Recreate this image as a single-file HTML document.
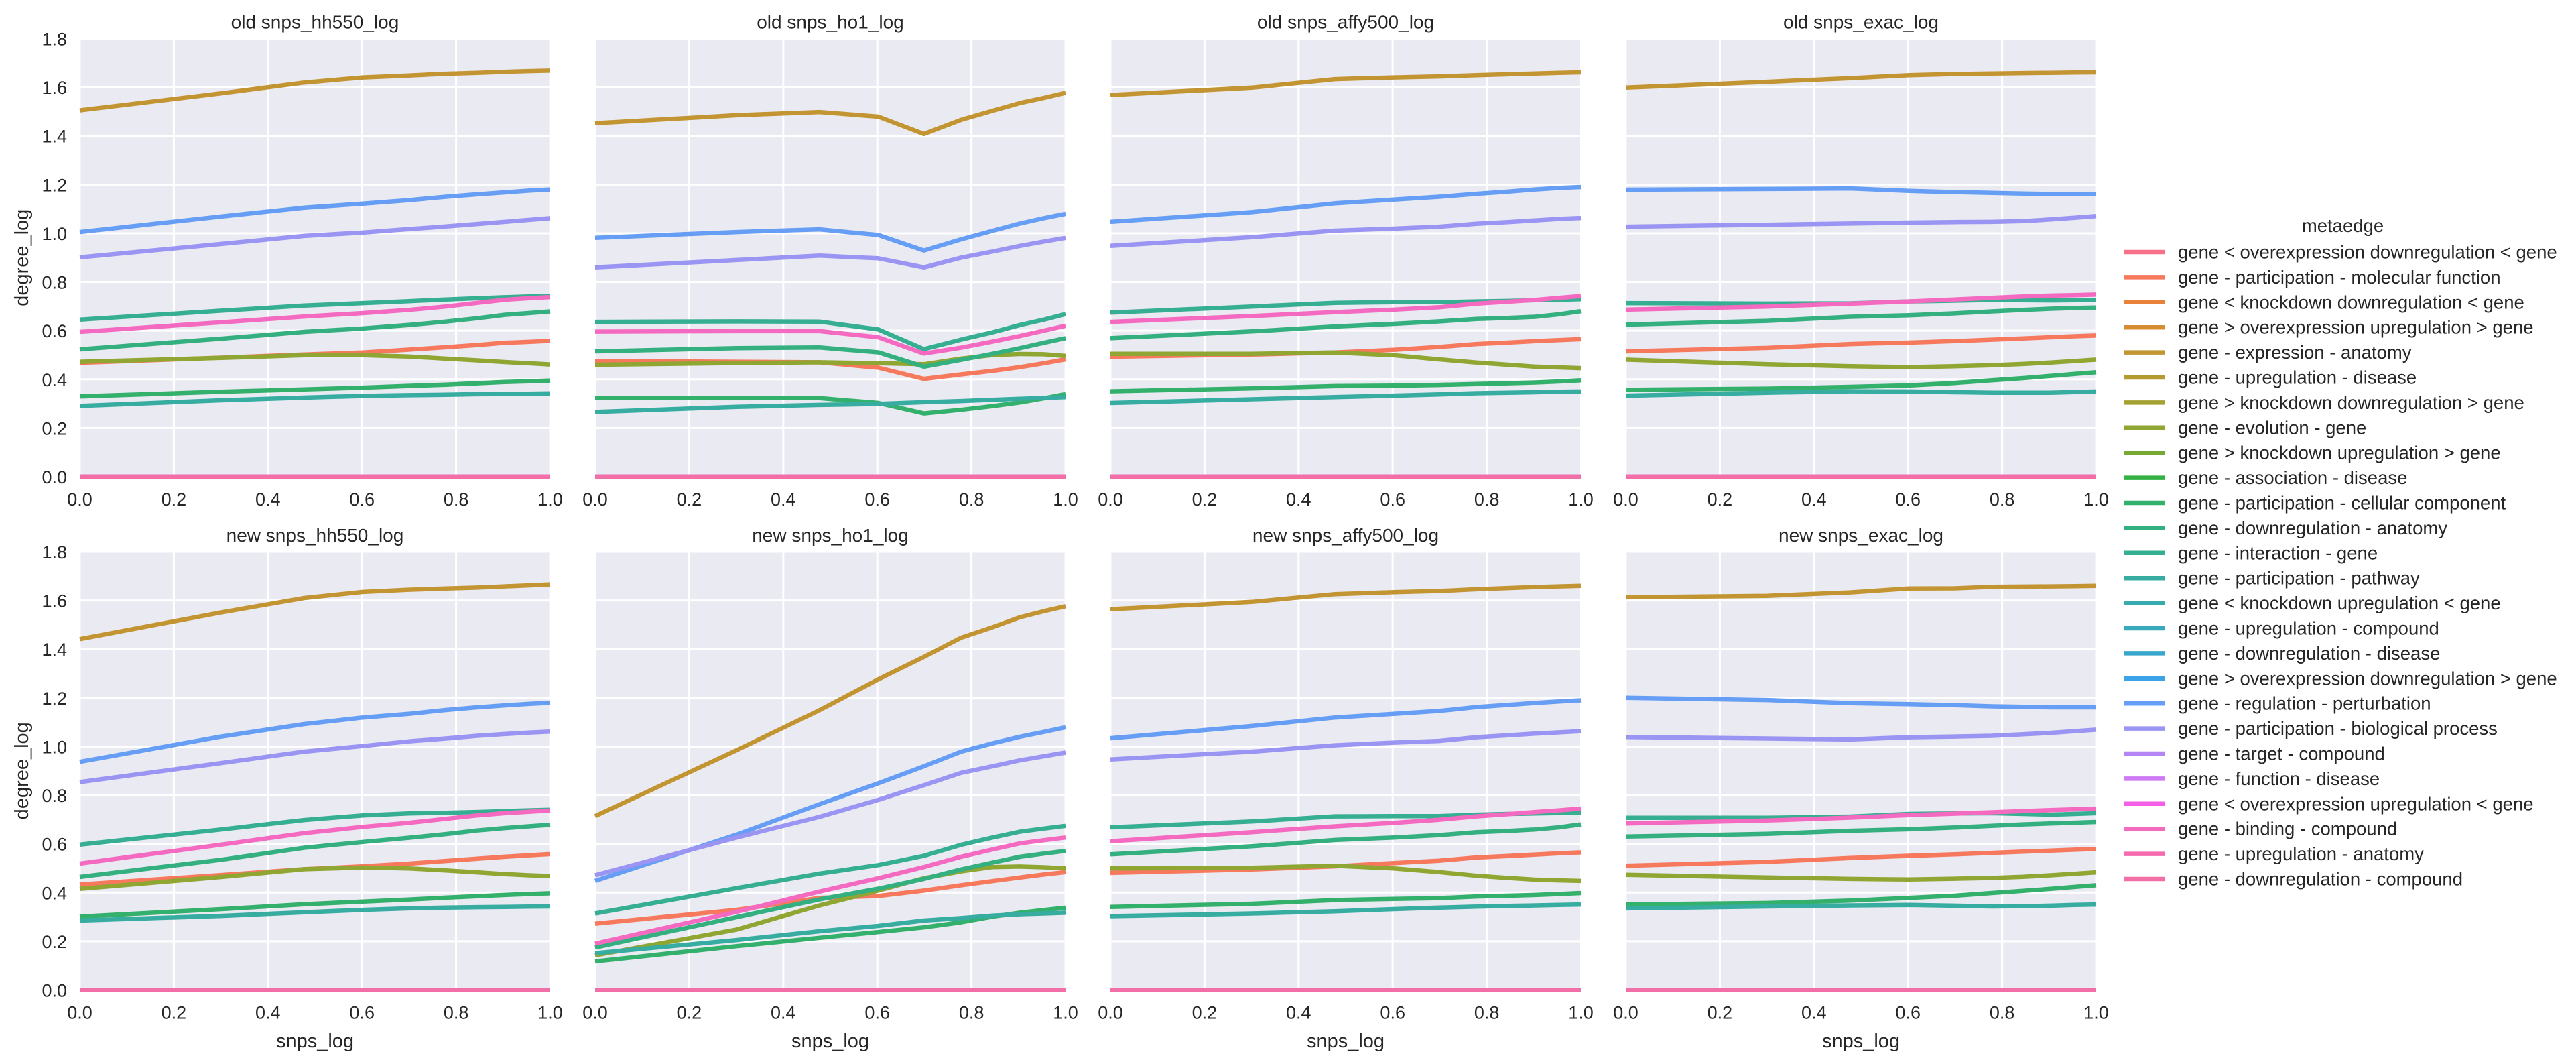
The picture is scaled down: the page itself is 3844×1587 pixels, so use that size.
<!DOCTYPE html>
<html><head><meta charset="utf-8">
<style>
html,body{margin:0;padding:0;background:#fff;}
svg{display:block;font-family:"Liberation Sans",Arial,sans-serif;}
</style></head>
<body>
<svg id="fig" width="3844" height="1587" viewBox="0 0 3844 1587" xmlns="http://www.w3.org/2000/svg">
  <rect x="0" y="0" width="3844" height="1587" fill="#ffffff"/>
  <g id="panels"></g>
  <g id="legend"></g>
</svg>
<script>
const xValues = [0, 0.301, 0.477, 0.602, 0.699, 0.778, 0.845, 0.903, 0.954, 1.0];
const panelTitles = ["old snps_hh550_log","old snps_ho1_log","old snps_affy500_log","old snps_exac_log",
                     "new snps_hh550_log","new snps_ho1_log","new snps_affy500_log","new snps_exac_log"];
const xTickLabels = ["0.0","0.2","0.4","0.6","0.8","1.0"];
const xTickValues = [0, 0.2, 0.4, 0.6, 0.8, 1.0];
const yTickLabels = ["0.0","0.2","0.4","0.6","0.8","1.0","1.2","1.4","1.6","1.8"];
const yTickValues = [0, 0.2, 0.4, 0.6, 0.8, 1.0, 1.2, 1.4, 1.6, 1.8];

const seriesNames = [
 "gene < overexpression downregulation < gene","gene - participation - molecular function",
 "gene < knockdown downregulation < gene","gene > overexpression upregulation > gene",
 "gene - expression - anatomy","gene - upregulation - disease",
 "gene > knockdown downregulation > gene","gene - evolution - gene",
 "gene > knockdown upregulation > gene","gene - association - disease",
 "gene - participation - cellular component","gene - downregulation - anatomy",
 "gene - interaction - gene","gene - participation - pathway",
 "gene < knockdown upregulation < gene","gene - upregulation - compound",
 "gene - downregulation - disease","gene > overexpression downregulation > gene",
 "gene - regulation - perturbation","gene - participation - biological process",
 "gene - target - compound","gene - function - disease",
 "gene < overexpression upregulation < gene","gene - binding - compound",
 "gene - upregulation - anatomy","gene - downregulation - compound"];
const seriesColors = ["#f77189","#f6785d","#e8823a","#d58c32","#c39532","#b59a32","#a5a032","#8fa632",
 "#76aa33","#33b143","#33b06b","#34af80","#35ae92","#36ada0","#37abad","#38aabc","#39a7cc","#3ba3e6",
 "#659ef4","#9a94f3","#b486f4","#cd7af4","#f35fe6","#f46ac0","#f56bb0","#f26ea6"];

const zeroValues = [0,0,0,0,0,0,0,0,0,0];

const molecularFunction = [
 [0.468,0.489,0.502,0.510,0.522,0.532,0.541,0.550,0.554,0.558],
 [0.475,0.472,0.470,0.448,0.402,0.420,0.435,0.450,0.466,0.482],
 [0.493,0.502,0.510,0.521,0.533,0.545,0.551,0.557,0.561,0.565],
 [0.515,0.529,0.545,0.551,0.557,0.563,0.568,0.573,0.577,0.580],
 [0.433,0.472,0.496,0.508,0.519,0.530,0.539,0.547,0.553,0.558],
 [0.272,0.329,0.378,0.386,0.408,0.430,0.447,0.462,0.474,0.484],
 [0.481,0.495,0.508,0.521,0.531,0.544,0.550,0.556,0.561,0.565],
 [0.510,0.526,0.542,0.551,0.557,0.563,0.568,0.572,0.576,0.579]];
const expressionAnatomy = [
 [1.505,1.575,1.619,1.640,1.648,1.655,1.659,1.663,1.666,1.668],
 [1.452,1.485,1.498,1.479,1.408,1.466,1.503,1.535,1.556,1.577],
 [1.568,1.598,1.633,1.640,1.644,1.649,1.653,1.656,1.659,1.661],
 [1.598,1.622,1.637,1.649,1.654,1.656,1.658,1.659,1.660,1.661],
 [1.441,1.551,1.610,1.635,1.644,1.649,1.653,1.658,1.662,1.666],
 [0.714,0.985,1.149,1.276,1.368,1.447,1.490,1.531,1.556,1.576],
 [1.564,1.594,1.626,1.634,1.639,1.646,1.651,1.655,1.658,1.660],
 [1.613,1.619,1.633,1.649,1.650,1.656,1.657,1.658,1.659,1.660]];
const evolutionGene = [
 [0.472,0.488,0.499,0.499,0.494,0.485,0.478,0.471,0.466,0.461],
 [0.460,0.467,0.470,0.466,0.462,0.485,0.500,0.504,0.503,0.496],
 [0.505,0.505,0.510,0.499,0.482,0.469,0.460,0.452,0.449,0.446],
 [0.481,0.462,0.454,0.450,0.454,0.458,0.463,0.469,0.475,0.481],
 [0.415,0.464,0.496,0.503,0.499,0.491,0.483,0.476,0.471,0.468],
 [0.142,0.248,0.347,0.408,0.459,0.487,0.505,0.507,0.504,0.499],
 [0.499,0.502,0.510,0.499,0.484,0.469,0.460,0.453,0.450,0.448],
 [0.473,0.462,0.456,0.454,0.457,0.460,0.465,0.471,0.477,0.483]];
const cellularComponent = [
 [0.330,0.349,0.359,0.366,0.373,0.378,0.384,0.389,0.392,0.395],
 [0.323,0.324,0.323,0.303,0.260,0.275,0.290,0.305,0.322,0.339],
 [0.351,0.363,0.372,0.374,0.377,0.381,0.384,0.387,0.391,0.396],
 [0.357,0.362,0.369,0.375,0.385,0.396,0.405,0.414,0.422,0.429],
 [0.301,0.332,0.352,0.363,0.371,0.379,0.385,0.390,0.394,0.397],
 [0.117,0.180,0.214,0.238,0.257,0.278,0.301,0.317,0.328,0.338],
 [0.341,0.354,0.369,0.374,0.377,0.384,0.387,0.390,0.394,0.398],
 [0.351,0.357,0.367,0.378,0.387,0.398,0.407,0.415,0.423,0.430]];
const downregulationAnatomy = [
 [0.523,0.567,0.595,0.609,0.623,0.637,0.651,0.665,0.672,0.679],
 [0.515,0.528,0.531,0.511,0.452,0.480,0.505,0.528,0.550,0.569],
 [0.569,0.597,0.617,0.628,0.638,0.648,0.652,0.657,0.667,0.680],
 [0.625,0.640,0.657,0.663,0.671,0.679,0.685,0.690,0.693,0.695],
 [0.464,0.535,0.584,0.608,0.625,0.640,0.655,0.665,0.672,0.678],
 [0.174,0.299,0.372,0.416,0.456,0.495,0.523,0.547,0.560,0.571],
 [0.557,0.590,0.616,0.626,0.636,0.648,0.653,0.659,0.668,0.680],
 [0.630,0.641,0.654,0.660,0.667,0.674,0.680,0.684,0.687,0.690]];
const interactionGene = [
 [0.645,0.682,0.703,0.713,0.721,0.728,0.733,0.737,0.740,0.741],
 [0.636,0.638,0.637,0.605,0.524,0.563,0.593,0.623,0.645,0.668],
 [0.674,0.699,0.714,0.717,0.717,0.720,0.722,0.725,0.727,0.729],
 [0.713,0.711,0.712,0.720,0.723,0.726,0.725,0.724,0.725,0.726],
 [0.597,0.659,0.698,0.717,0.725,0.728,0.731,0.735,0.738,0.740],
 [0.314,0.418,0.478,0.513,0.551,0.596,0.626,0.650,0.663,0.674],
 [0.668,0.692,0.713,0.714,0.714,0.720,0.723,0.725,0.727,0.729],
 [0.707,0.707,0.712,0.723,0.725,0.726,0.723,0.720,0.723,0.726]];
const participationPathway = [
 [0.291,0.314,0.325,0.332,0.335,0.337,0.339,0.340,0.341,0.342],
 [0.266,0.287,0.295,0.299,0.306,0.311,0.316,0.320,0.324,0.327],
 [0.303,0.318,0.327,0.333,0.338,0.343,0.345,0.347,0.349,0.350],
 [0.333,0.345,0.351,0.350,0.347,0.345,0.345,0.345,0.348,0.350],
 [0.285,0.304,0.319,0.329,0.335,0.338,0.340,0.341,0.342,0.343],
 [0.151,0.205,0.241,0.263,0.285,0.295,0.305,0.311,0.314,0.317],
 [0.303,0.314,0.323,0.332,0.338,0.342,0.345,0.347,0.349,0.351],
 [0.335,0.343,0.347,0.349,0.346,0.343,0.344,0.346,0.349,0.351]];
const regulationPerturbation = [
 [1.005,1.069,1.105,1.122,1.136,1.150,1.160,1.168,1.175,1.180],
 [0.981,1.005,1.016,0.993,0.929,0.975,1.010,1.040,1.062,1.080],
 [1.047,1.087,1.123,1.138,1.150,1.162,1.171,1.180,1.186,1.190],
 [1.179,1.182,1.184,1.174,1.169,1.166,1.163,1.161,1.161,1.161],
 [0.937,1.041,1.092,1.119,1.134,1.150,1.161,1.169,1.175,1.180],
 [0.448,0.638,0.763,0.849,0.919,0.979,1.013,1.040,1.060,1.079],
 [1.034,1.084,1.119,1.134,1.146,1.162,1.171,1.179,1.185,1.190],
 [1.200,1.191,1.178,1.174,1.170,1.165,1.163,1.161,1.161,1.161]];
const biologicalProcess = [
 [0.901,0.956,0.989,1.003,1.017,1.028,1.038,1.047,1.055,1.062],
 [0.860,0.890,0.908,0.897,0.860,0.900,0.925,0.948,0.966,0.981],
 [0.948,0.984,1.011,1.019,1.027,1.039,1.046,1.053,1.059,1.063],
 [1.027,1.035,1.040,1.044,1.046,1.047,1.050,1.057,1.064,1.071],
 [0.854,0.932,0.979,1.002,1.021,1.033,1.044,1.051,1.057,1.061],
 [0.471,0.626,0.711,0.781,0.841,0.892,0.919,0.943,0.960,0.975],
 [0.947,0.979,1.005,1.016,1.023,1.038,1.046,1.053,1.058,1.063],
 [1.039,1.033,1.029,1.038,1.041,1.044,1.050,1.056,1.063,1.069]];
const bindingCompound = [
 [0.595,0.634,0.658,0.672,0.685,0.699,0.714,0.727,0.733,0.738],
 [0.596,0.598,0.598,0.573,0.506,0.530,0.555,0.578,0.600,0.620],
 [0.636,0.660,0.676,0.686,0.696,0.711,0.719,0.726,0.735,0.742],
 [0.686,0.699,0.711,0.720,0.728,0.735,0.740,0.744,0.746,0.748],
 [0.519,0.597,0.644,0.670,0.686,0.703,0.717,0.726,0.732,0.737],
 [0.190,0.321,0.404,0.459,0.505,0.547,0.577,0.602,0.615,0.626],
 [0.611,0.648,0.672,0.686,0.699,0.713,0.722,0.731,0.738,0.745],
 [0.684,0.696,0.708,0.718,0.724,0.730,0.735,0.739,0.742,0.745]];

const seriesData = {1: molecularFunction, 4: expressionAnatomy, 7: evolutionGene, 10: cellularComponent,
  11: downregulationAnatomy, 12: interactionGene, 13: participationPathway, 18: regulationPerturbation,
  19: biologicalProcess, 23: bindingCompound};

const NS = "http://www.w3.org/2000/svg";
const colLeft = [119, 888, 1657, 2426];
const panelW = 702;
const rowTop = [57.5, 823];
const panelH = 653.5;
const FONT_TICK = 27, TEXT = "#262626";

function mk(tag, attrs, parent){
  const el = document.createElementNS(NS, tag);
  for (const k in attrs) el.setAttribute(k, attrs[k]);
  parent.appendChild(el);
  return el;
}

const panelsG = document.getElementById("panels");
for (let p = 0; p < 8; p++) {
  const row = Math.floor(p / 4), col = p % 4;
  const L = colLeft[col], T = rowTop[row];
  const xs = v => L + v * panelW;
  const ys = v => T + panelH - (v / 1.8) * panelH;
  const g = mk("g", {}, panelsG);
  
  
  const bg = mk("rect", {x: L, y: T, width: panelW, height: panelH, fill: "#eaeaf2"}, g);
  
  
  for (let i = 0; i < yTickValues.length; i++) {
    const y = ys(yTickValues[i]);
    const gl = mk("line", {x1: L, x2: L + panelW, y1: y, y2: y, stroke: "#ffffff", "stroke-width": 3}, g);
    
    
    if (col === 0) {
      const t = mk("text", {x: 100, y: y + 10, "text-anchor": "end", "font-size": FONT_TICK, fill: TEXT}, g);
      t.textContent = yTickLabels[i];
      
      
    }
  }
  for (let i = 0; i < xTickValues.length; i++) {
    const x = xs(xTickValues[i]);
    const gl = mk("line", {x1: x, x2: x, y1: T, y2: T + panelH, stroke: "#ffffff", "stroke-width": 3}, g);
    
    
    const t = mk("text", {x: x, y: T + panelH + 43, "text-anchor": "middle", "font-size": FONT_TICK, fill: TEXT}, g);
    t.textContent = xTickLabels[i];
    
    
  }
  const title = mk("text", {x: L + panelW / 2, y: T - 15, "text-anchor": "middle", "font-size": 28, fill: TEXT}, g);
  title.textContent = panelTitles[p];
  
  
  if (col === 0) {
    const cy = T + panelH / 2;
    const yl = mk("text", {x: 42, y: cy, "text-anchor": "middle", "font-size": 29, fill: TEXT, transform: "rotate(-90 42 " + cy + ")"}, g);
    yl.textContent = "degree_log";
    
    
  }
  if (row === 1) {
    const xl = mk("text", {x: L + panelW / 2, y: 1562, "text-anchor": "middle", "font-size": 29, fill: TEXT}, g);
    xl.textContent = "snps_log";
    
    
  }
  for (let s = 0; s < seriesNames.length; s++) {
    const vals = seriesData[s] ? seriesData[s][p] : zeroValues;
    const pts = vals.map((v, i) => xs(xValues[i]).toFixed(1) + "," + ys(v).toFixed(1)).join(" ");
    const pl = mk("polyline", {points: pts, fill: "none", stroke: seriesColors[s], "stroke-width": 6.5,
      "stroke-linejoin": "round", "stroke-linecap": "butt"}, g);
    
    
  }
}

const legendG = document.getElementById("legend");
const LEG_Y0 = 376, LEG_DY = 37.4;
const lt = mk("text", {x: 3496, y: LEG_Y0 - 30, "text-anchor": "middle", "font-size": 27.5, fill: TEXT}, legendG);
lt.textContent = "metaedge";


for (let s = 0; s < seriesNames.length; s++) {
  const y = LEG_Y0 + s * LEG_DY;
  const eg = mk("g", {}, legendG);
  
  
  const ln = mk("line", {x1: 3170, x2: 3231, y1: y, y2: y, stroke: seriesColors[s], "stroke-width": 6.5}, eg);
  
  
  const tx = mk("text", {x: 3250, y: y + 9.5, "font-size": 27.5, fill: TEXT}, eg);
  tx.textContent = seriesNames[s];
  
  
}
</script>
</body></html>
